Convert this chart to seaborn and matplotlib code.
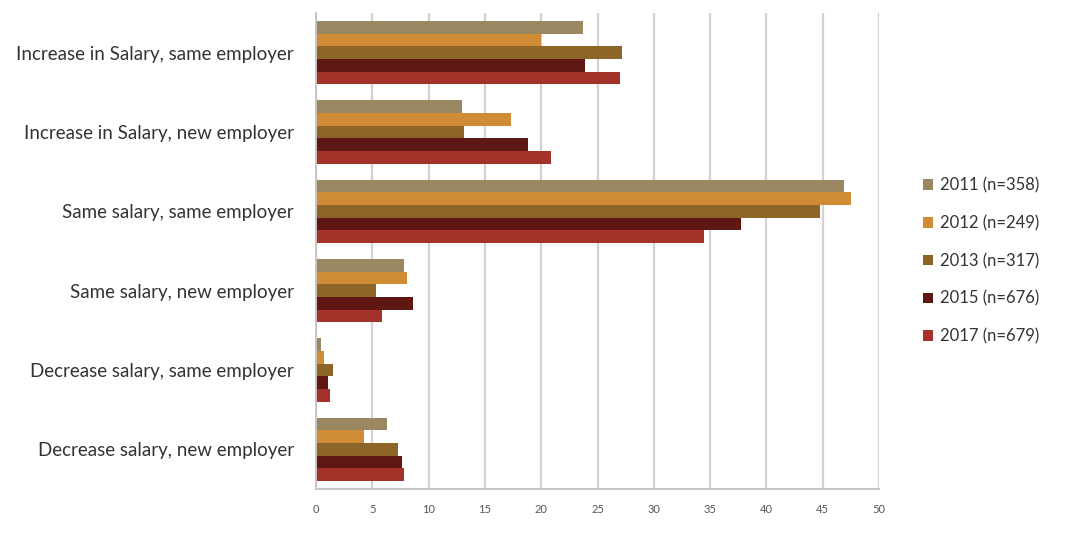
import matplotlib
matplotlib.use("Agg")
import matplotlib.pyplot as plt
import seaborn as sns
import pandas as pd
import numpy as np

categories = [
    "Increase in Salary, same employer",
    "Increase in Salary, new employer",
    "Same salary, same employer",
    "Same salary, new employer",
    "Decrease salary, same employer",
    "Decrease salary, new employer",
]
series_labels = ["2011 (n=358)", "2012 (n=249)", "2013 (n=317)", "2015 (n=676)", "2017 (n=679)"]
v2011 = [23.7, 13.0, 46.9, 7.8, 0.4, 6.3]
v2012 = [20.0, 17.3, 47.5, 8.1, 0.7, 4.3]
v2013 = [27.2, 13.1, 44.8, 5.3, 1.55, 7.3]
v2015 = [23.9, 18.8, 37.7, 8.6, 1.05, 7.6]
v2017 = [27.0, 20.9, 34.5, 5.9, 1.2, 7.8]
x_ticks = [0, 5, 10, 15, 20, 25, 30, 35, 40, 45, 50]

colors = ["#9a8862", "#d08b35", "#8e6529", "#5e1712", "#a5312b"]

rows = []
for lab, vals in zip(series_labels, [v2011, v2012, v2013, v2015, v2017]):
    for c, v in zip(categories, vals):
        rows.append({"category": c, "series": lab, "value": v})
df = pd.DataFrame(rows)

sns.set_style("white")
plt.rcParams["font.family"] = ["Lato", "DejaVu Sans"]

fig = plt.figure(figsize=(10.65, 5.35), dpi=100)
ax = fig.add_axes([316 / 1065, 1 - 489 / 535, (879 - 316) / 1065, (489 - 13) / 535])

sns.barplot(data=df, y="category", x="value", hue="series", order=categories,
            hue_order=series_labels, palette=colors, orient="h", width=0.8,
            saturation=1, ax=ax, edgecolor="none", linewidth=0)

ax.set_xlim(0, 50)
ax.set_ylim(5.5, -0.5)
ax.set_xticks(x_ticks)
ax.set_xticklabels([str(t) for t in x_ticks], fontsize=8, color="#555555")
ax.set_xlabel("")
ax.set_ylabel("")
ax.set_yticks(range(len(categories)))
ax.set_yticklabels(categories, fontsize=13.5, color="#333333")
ax.set_yticks(np.arange(-0.5, 6.0, 1.0), minor=True)
ax.tick_params(axis="y", which="major", length=0, pad=16)
ax.tick_params(axis="y", which="minor", length=4, color="#bbbbbb", width=1)
ax.tick_params(axis="x", which="major", length=4, color="#bbbbbb", width=1, pad=7)

ax.xaxis.grid(True, color="#d6d1d1", linewidth=1.6)
ax.yaxis.grid(False)
ax.set_axisbelow(True)
for s in ["top", "right"]:
    ax.spines[s].set_visible(False)
for s in ["left", "bottom"]:
    ax.spines[s].set_color("#c8c4c4")
    ax.spines[s].set_linewidth(1.4)

handles, labels = ax.get_legend_handles_labels()
ax.legend_.remove()
fig.legend(handles, labels, loc="center left", bbox_to_anchor=(908 / 1065, 1 - 261 / 535),
           frameon=False, fontsize=12, handlelength=0.6, handleheight=0.6,
           handletextpad=0.45, labelspacing=1.3, labelcolor="#333333")

fig.savefig("out.png", dpi=100, facecolor="white")
